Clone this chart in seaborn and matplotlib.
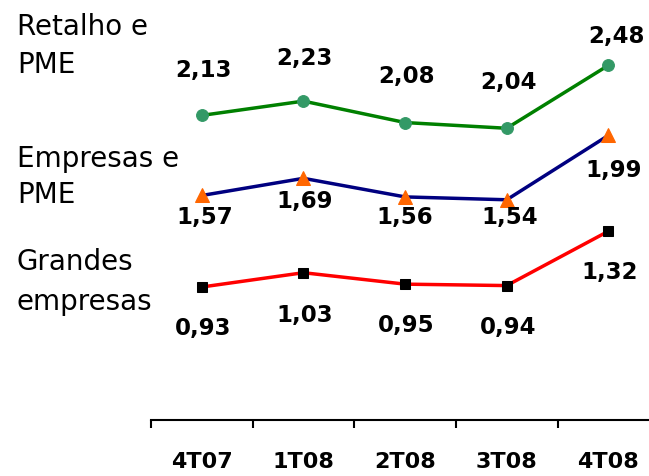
import matplotlib
matplotlib.use("Agg")
import matplotlib.pyplot as plt
import seaborn as sns
import numpy as np

# ================= DATA =================
quarters = ["4T07", "1T08", "2T08", "3T08", "4T08"]
retalho_pme = [2.13, 2.23, 2.08, 2.04, 2.48]
empresas_pme = [1.57, 1.69, 1.56, 1.54, 1.99]
grandes_empresas = [0.93, 1.03, 0.95, 0.94, 1.32]
series_names = [["Retalho e", "PME"], ["Empresas e", "PME"], ["Grandes", "empresas"]]

# ================= STYLE =================
sns.set_theme(style="white")
plt.rcParams['font.family'] = ['DejaVu Sans']
plt.rcParams['text.color'] = 'black'
plt.rcParams['xtick.color'] = 'black'

styles = [
    dict(color="#008000", marker="o", mfc="#339966", ms=8.5),
    dict(color="#000080", marker="^", mfc="#ff6600", ms=10),
    dict(color="#ff0000", marker="s", mfc="#000000", ms=7.5),
]
# label offsets in points (dx, dy) relative to each point
label_offsets = [
    [(1, 32), (1, 31), (1, 33), (1, 33), (6, 21)],
    [(2, -16), (1, -17), (0, -15), (2, -13), (4, -25)],
    [(1, -30), (1, -31), (1, -30), (1, -30), (1, -30)],
]
# baselines of the left-hand labels, pixels from the top
name_baselines = [(35, 73), (167, 203), (270, 310)]

fig = plt.figure(figsize=(6.49, 4.76), dpi=100)
ax = fig.add_axes([151 / 649, 56 / 476, 498 / 649, 420 / 476])

all_series = [retalho_pme, empresas_pme, grandes_empresas]
x = np.arange(len(quarters))
for vals, st, offs in zip(all_series, styles, label_offsets):
    sns.lineplot(x=x, y=vals, ax=ax, color=st["color"], linewidth=2.5,
                 marker=st["marker"], markersize=st["ms"],
                 markerfacecolor=st["mfc"], markeredgecolor=st["mfc"],
                 sort=False)
    for xi, v, (dx, dy) in zip(x, vals, offs):
        ax.annotate(f"{v:.2f}".replace(".", ","), (xi, v), xytext=(dx, dy),
                    textcoords="offset points", ha="center", va="center",
                    fontsize=16.5, fontweight="bold", color="black")

for lines, bases in zip(series_names, name_baselines):
    for txt, b in zip(lines, bases):
        fig.text(17 / 649, 1 - b / 476, txt, fontsize=20, va="baseline",
                 ha="left", color="black")

# ================= AXES =================
ax.set_xlim(-0.5, 4.4)
ax.set_ylim(0, 2.937)
for s in ["left", "top", "right"]:
    ax.spines[s].set_visible(False)
ax.spines["bottom"].set_color("black")
ax.spines["bottom"].set_linewidth(1.5)
ax.set_yticks([])
ax.set_xticks(np.arange(-0.5, 4.0, 1.0))
ax.set_xticklabels([])
ax.set_xticks(x, minor=True)
ax.set_xticklabels(quarters, minor=True, fontsize=16, fontweight="bold",
                   color="black")
ax.tick_params(axis="x", which="major", length=6, width=1.5, color="black",
               direction="out", bottom=True)
ax.tick_params(axis="x", which="minor", length=0, pad=23, bottom=True)
ax.set_xlabel("")
ax.set_ylabel("")

fig.savefig("out.png", dpi=100)
